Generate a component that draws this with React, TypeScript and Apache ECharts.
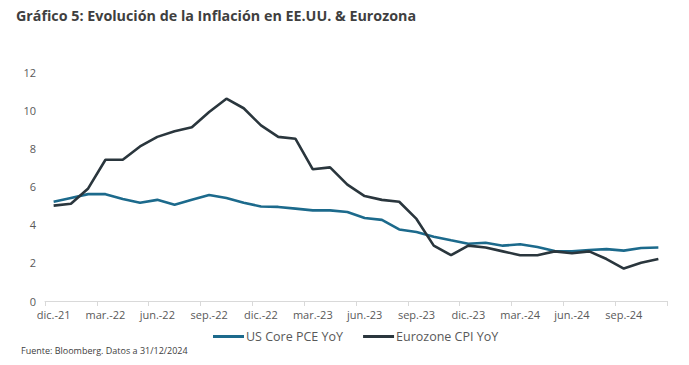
import React, { useEffect, useRef } from "react";
import * as echarts from "echarts";

const months = [
  "dic.-21", "ene.-22", "feb.-22", "mar.-22", "abr.-22", "may.-22", "jun.-22", "jul.-22", "ago.-22",
  "sep.-22", "oct.-22", "nov.-22", "dic.-22", "ene.-23", "feb.-23", "mar.-23", "abr.-23", "may.-23",
  "jun.-23", "jul.-23", "ago.-23", "sep.-23", "oct.-23", "nov.-23", "dic.-23", "ene.-24", "feb.-24",
  "mar.-24", "abr.-24", "may.-24", "jun.-24", "jul.-24", "ago.-24", "sep.-24", "oct.-24", "nov.-24",
];

const usCorePce = [
  5.2, 5.4, 5.6, 5.6, 5.35, 5.15, 5.3, 5.05, 5.3, 5.55, 5.4, 5.15,
  4.95, 4.93, 4.84, 4.75, 4.75, 4.66, 4.35, 4.25, 3.75, 3.62, 3.37, 3.18,
  3.0, 3.05, 2.9, 2.97, 2.83, 2.62, 2.6, 2.67, 2.72, 2.64, 2.78, 2.8,
];

const eurozoneCpi = [
  5.0, 5.1, 5.9, 7.4, 7.4, 8.1, 8.6, 8.9, 9.1, 9.9, 10.6, 10.1,
  9.2, 8.6, 8.5, 6.9, 7.0, 6.1, 5.5, 5.3, 5.2, 4.3, 2.9, 2.4,
  2.9, 2.8, 2.6, 2.4, 2.4, 2.6, 2.5, 2.6, 2.2, 1.7, 2.0, 2.2,
];

const title = "Gráfico 5: Evolución de la Inflación en EE.UU. & Eurozona";
const source = "Fuente: Bloomberg. Datos a 31/12/2024";

const FONT = "'Open Sans', 'DejaVu Sans', sans-serif";

export default function App() {
  const ref = useRef<HTMLDivElement>(null);
  useEffect(() => {
    if (!ref.current) return;
    const chart = echarts.init(ref.current, undefined, { renderer: "svg" });
    chart.setOption({
      animation: false,
      backgroundColor: "#ffffff",
      textStyle: { fontFamily: FONT },
      title: {
        text: title,
        left: 16,
        top: 8,
        padding: 0,
        textStyle: { fontFamily: FONT, fontSize: 14.3, fontWeight: "bold", color: "#3f3f3f" },
      },
      graphic: [
        {
          type: "text",
          left: 21,
          top: 346,
          style: { text: source, fontFamily: FONT, fontSize: 9, fill: "#404040" },
        },
      ],
      legend: {
        left: 213,
        top: 330,
        padding: 0,
        itemGap: 20,
        itemWidth: 31,
        itemHeight: 3,
        icon: "rect",
        textStyle: { fontFamily: FONT, fontSize: 12.5, color: "#595959", padding: [0, 0, 0, -3] },
        data: ["US Core PCE YoY", "Eurozone CPI YoY"],
      },
      grid: { left: 45, right: 22, top: 72, bottom: 64, containLabel: false },
      xAxis: {
        type: "category",
        data: months,
        boundaryGap: true,
        axisLine: { lineStyle: { color: "#d9d9d9", width: 1 } },
        axisTick: { show: true, interval: 2, length: 5, lineStyle: { color: "#d9d9d9" } },
        axisLabel: {
          interval: 2,
          color: "#595959",
          fontFamily: FONT,
          fontSize: 11,
          margin: 8,
        },
      },
      yAxis: {
        type: "value",
        min: 0,
        max: 12,
        interval: 2,
        axisLine: { show: false },
        axisTick: { show: false },
        splitLine: { show: false },
        axisLabel: { color: "#595959", fontFamily: FONT, fontSize: 11, margin: 9 },
      },
      series: [
        {
          name: "US Core PCE YoY",
          type: "line",
          data: usCorePce,
          symbol: "none",
          color: "#1c6a8c",
          lineStyle: { width: 2.6, color: "#1c6a8c" },
        },
        {
          name: "Eurozone CPI YoY",
          type: "line",
          data: eurozoneCpi,
          symbol: "none",
          color: "#2a363d",
          lineStyle: { width: 2.6, color: "#2a363d" },
        },
      ],
    });
    return () => chart.dispose();
  }, []);
  return <div ref={ref} style={{ width: 689, height: 365, position: "absolute", left: 0, top: 0 }} />;
}
